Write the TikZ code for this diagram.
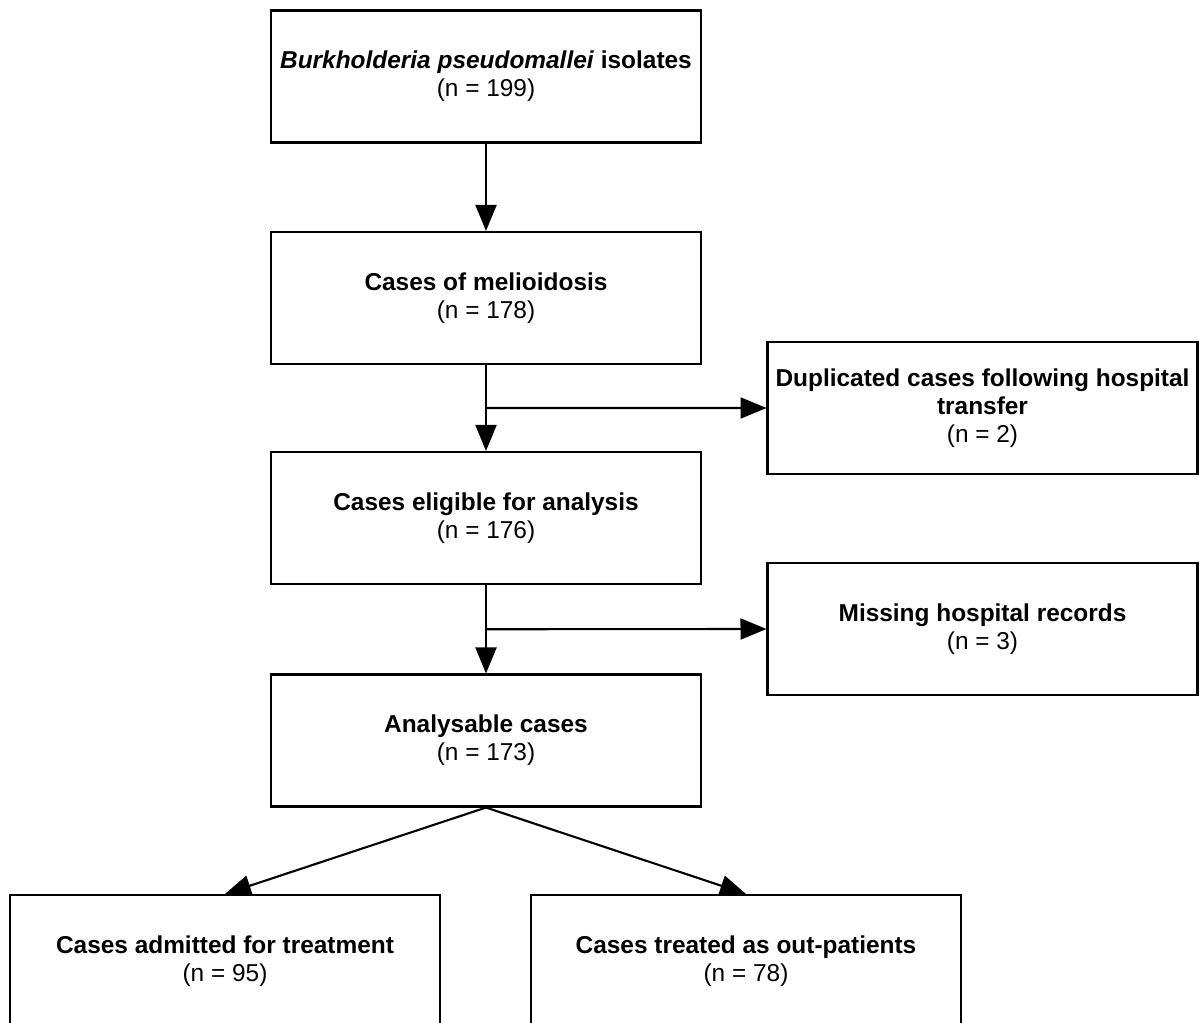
\documentclass[tikz,border=0pt]{standalone}
\usepackage{fontspec}
\setmainfont{Liberation Sans}
\usetikzlibrary{arrows.meta, calc, positioning}

\begin{document}
\begin{tikzpicture}[x=0.02cm, y=-0.02cm,
	box/.style={draw=black, line width=1.2pt, minimum width=8.6cm, minimum height=2.64cm, inner sep=0pt, align=center, font=\fontsize{13.9}{15.8}\selectfont},
	arr/.style={draw=black, line width=1.2pt, -{Triangle[length=0.52cm, width=0.42cm]}}]

	\useasboundingbox (0,0) rectangle (1200,1023);

	\node(Iso) [box] at (486,76.5) {\textbf{\textit{Burkholderia pseudomallei} isolates}\\(n = 199)};
	\node(Mel) [box] at (486,298) {\textbf{Cases of melioidosis}\\(n = 178)};
	\node(Elig) [box] at (486,518) {\textbf{Cases eligible for analysis}\\(n = 176)};
	\node(Anal) [box] at (486,740.5) {\textbf{Analysable cases}\\(n = 173)};

	\node(Dup) [box] at (982.5,408) {\textbf{Duplicated cases following hospital}\\\textbf{transfer}\\(n = 2)};
	\node(Miss) [box] at (982.5,629) {\textbf{Missing hospital records}\\(n = 3)};

	\node(Adm) [box] at (225,961) {\textbf{Cases admitted for treatment}\\(n = 95)};
	\node(Out) [box] at (746,961) {\textbf{Cases treated as out-patients}\\(n = 78)};

	\coordinate (J1) at ($ (Mel.south)!.5!(Elig.north) $);
	\coordinate (J2) at ($ (Elig.south)!.5!(Anal.north) $);

	\draw[arr] (Iso) -- (Mel);
	\draw[arr] (Mel) -- (Elig);
	\draw[arr] (J1) -- (Dup.west);
	\draw[arr] (Elig) -- (Anal);
	\draw[arr] (J2) -- (Miss.west);
	\draw[arr] (Anal.south) -- (Adm.north);
	\draw[arr] (Anal.south) -- (Out.north);

\end{tikzpicture}
\end{document}
